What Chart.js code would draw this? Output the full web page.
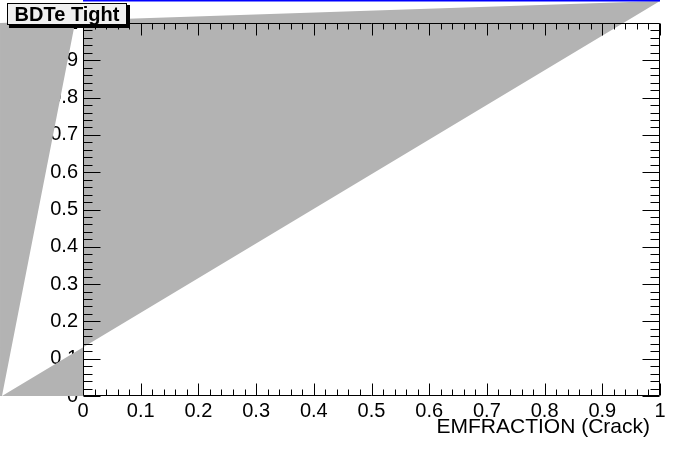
<!DOCTYPE html>
<html>
<head>
<meta charset="utf-8">
<title>BDTe Tight</title>
<script src="https://cdn.jsdelivr.net/npm/chart.js@4/dist/chart.umd.min.js"></script>
<style>
  body { margin: 0; background: #fff; }
  #wrap { width: 696px; height: 472px; }
</style>
</head>
<body>
<div id="wrap"><canvas id="effPlot" width="696" height="472"></canvas></div>
<script>
// axis ticks
const xTicks = [0, 0.1, 0.2, 0.3, 0.4, 0.5, 0.6, 0.7, 0.8, 0.9, 1];
const yTicks = [0, 0.1, 0.2, 0.3, 0.4, 0.5, 0.6, 0.7, 0.8, 0.9, 1];

// efficiency curve (blue, sits just above the frame)
const effX = [0, 1];
const effY = [1.06, 1.06];

// error band polygon (grey), vertices in data units
const bandX = [-0.1404, 1.0, -0.1438, -0.1438, 0, 0, -0.0139];
const bandY = [0, 1.059, 1.0, 0, 0, 1, 1];

const titleText = "BDTe Tight";
const xTitle = "EMFRACTION (Crack)";

const FONT = "'Liberation Sans', Arial, Helvetica, sans-serif";

// draws the band, the ROOT style frame with inner ticks, axis title and title box
const rootStyle = {
  id: "rootStyle",
  beforeDatasetsDraw(chart) {
    const { ctx, scales: { x, y } } = chart;
    ctx.save();
    ctx.beginPath();
    bandX.forEach((v, i) => {
      const px = x.getPixelForValue(v);
      const py = y.getPixelForValue(bandY[i]);
      if (i === 0) ctx.moveTo(px, py);
      else ctx.lineTo(px, py);
    });
    ctx.closePath();
    ctx.fillStyle = "#b3b3b3";
    ctx.fill("evenodd");
    ctx.restore();
  },
  afterDatasetsDraw(chart) {
    const { ctx, chartArea: a, scales: { x, y } } = chart;
    const L = Math.round(a.left) + 0.5, R = Math.round(a.right) - 0.5;
    const T = Math.round(a.top) + 0.5, B = Math.round(a.bottom) - 0.5;
    ctx.save();
    ctx.strokeStyle = "#000";
    ctx.lineWidth = 1;
    ctx.beginPath();
    ctx.rect(L, T, R - L, B - T);

    // minor ticks every 0.02, major every 0.1
    for (let k = 0; k <= 50; k++) {
      const v = k / 50;
      const major = k % 5 === 0;
      const px = Math.round(x.getPixelForValue(v)) + 0.5;
      const lx = major ? 12 : 6;
      ctx.moveTo(px, B); ctx.lineTo(px, B - lx);
      ctx.moveTo(px, T); ctx.lineTo(px, T + lx);
      const py = Math.round(y.getPixelForValue(v)) + 0.5;
      const ly = major ? 17 : 9;
      ctx.moveTo(L, py); ctx.lineTo(L + ly, py);
      ctx.moveTo(R, py); ctx.lineTo(R - ly, py);
    }
    ctx.stroke();

    // x axis title, right aligned like ROOT
    ctx.fillStyle = "#000";
    ctx.font = "21px " + FONT;
    ctx.textAlign = "right";
    ctx.textBaseline = "alphabetic";
    ctx.fillText(xTitle, a.right - 10, 433);

    // title box with shadow
    ctx.fillStyle = "#000";
    ctx.fillRect(9, 5, 121, 23);
    ctx.fillStyle = "#f0f0f0";
    ctx.fillRect(7, 3, 120, 22);
    ctx.strokeRect(7.5, 3.5, 119, 21);
    ctx.fillStyle = "#000";
    ctx.font = "bold 20px " + FONT;
    ctx.textAlign = "center";
    ctx.textBaseline = "alphabetic";
    ctx.fillText(titleText, 67, 21);
    ctx.restore();
  }
};

const tickFont = { family: FONT, size: 20 };
const plain = v => String(v);

new Chart(document.getElementById("effPlot"), {
  type: "scatter",
  data: {
    datasets: [{
      label: "efficiency",
      data: effX.map((v, i) => ({ x: v, y: effY[i] })),
      showLine: true,
      borderColor: "#0000ff",
      borderWidth: 2,
      pointRadius: 0,
      clip: false
    }]
  },
  options: {
    responsive: false,
    animation: false,
    layout: { padding: { top: 23, right: 36, left: 0, bottom: 0 } },
    plugins: { legend: { display: false }, tooltip: { enabled: false } },
    scales: {
      x: {
        type: "linear",
        min: 0,
        max: 1,
        afterFit(s) { s.height = 76; },
        afterBuildTicks(s) { s.ticks = xTicks.map(v => ({ value: v })); },
        grid: { display: false, drawTicks: false },
        border: { display: false },
        ticks: { font: tickFont, color: "#000", padding: 3, maxRotation: 0, autoSkip: false, callback: plain }
      },
      y: {
        type: "linear",
        min: 0,
        max: 1,
        afterFit(s) { s.width = 83; },
        afterBuildTicks(s) { s.ticks = yTicks.map(v => ({ value: v })); },
        grid: { display: false, drawTicks: false },
        border: { display: false },
        ticks: { font: tickFont, color: "#000", padding: 5, autoSkip: false, callback: plain }
      }
    }
  },
  plugins: [rootStyle]
});
</script>
</body>
</html>
